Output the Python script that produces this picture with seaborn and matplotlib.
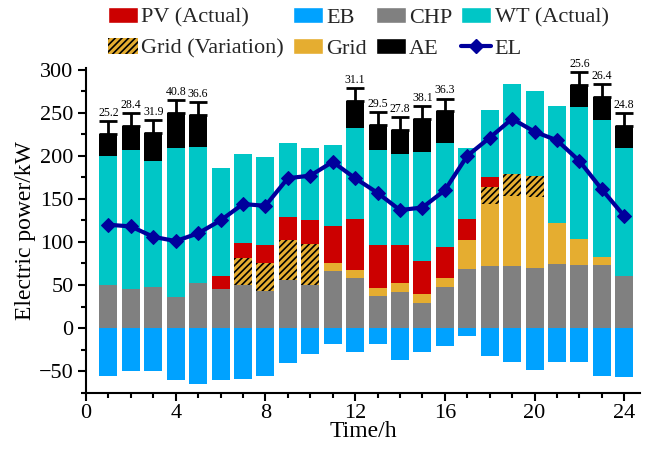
import numpy as np
import pandas as pd
import matplotlib
matplotlib.use("Agg")
import matplotlib.pyplot as plt
from matplotlib.patches import Patch
from matplotlib.lines import Line2D
from matplotlib.ticker import MultipleLocator
import seaborn as sns

hours = list(range(1, 25))
chp = [49.5, 44.9, 48.0, 35.6, 52.6, 44.9, 49.5, 42.5, 56.1, 50.3, 66.6, 58.4,
       37.5, 42.2, 29.4, 48.0, 68.9, 72.4, 72.4, 70.0, 74.7, 73.5, 73.5, 60.7]
grid = [0, 0, 0, 0, 0, 0, 0, 0, 0, 0, 9.2, 9.3,
        9.3, 10.4, 10.4, 10.4, 33.7, 71.2, 81.3, 82.5, 47.6, 30.2, 9.3, 0]
grid_var = [0, 0, 0, 0, 0, 0, 32.1, 33.3, 46.5, 47.6, 0, 0,
            0, 0, 0, 0, 0, 20.5, 25.5, 24.4, 0, 0, 0, 0]
pv = [0, 0, 0, 0, 0, 15.8, 17.4, 20.2, 26.7, 27.9, 43.0, 59.2,
      49.2, 44.1, 38.4, 36.0, 24.3, 11.6, 0, 0, 0, 0, 0, 0]
wt = [150.6, 161.4, 146.3, 173.8, 158.0, 125.5, 103.4, 102.2, 85.9, 83.6, 94.1, 105.7,
      110.3, 105.7, 126.6, 120.8, 82.5, 77.8, 104.5, 98.7, 135.9, 153.3, 159.1, 148.7]
ae = [25.2, 28.4, 31.9, 40.8, 36.6, 0, 0, 0, 0, 0, 0, 31.1,
      29.5, 27.8, 38.1, 36.3, 0, 0, 0, 0, 0, 25.6, 26.4, 24.8]
ae_err = [15] * 24
eb = [-56.2, -50.4, -50.4, -60.0, -64.7, -60.0, -58.9, -56.2, -41.1, -30.6, -19.0, -28.3,
      -19.0, -36.8, -27.5, -20.5, -9.7, -32.2, -39.9, -48.4, -39.9, -39.1, -55.4, -56.6]
el = [120, 118, 106, 101, 110, 125, 144, 142, 174, 177, 193, 174,
      157, 137, 140, 160, 200, 221, 243, 228, 218, 194, 161, 130]

sns.set_theme(style="ticks")
plt.rcParams['font.family'] = ['Liberation Serif', 'DejaVu Serif']
plt.rcParams['mathtext.fontset'] = 'stix'
plt.rcParams['hatch.linewidth'] = 1.2

C_PV = '#CC0000'
C_EB = '#00A2FF'
C_CHP = '#808080'
C_WT = '#00C6C6'
C_GRID = '#E5AD30'
C_AE = '#000000'
C_EL = '#00009C'

fig = plt.figure(figsize=(6.45, 4.51), dpi=100)
ax = fig.add_axes([0.1333, 0.1293, 0.8589, 0.72])

x = np.array(hours, dtype=float)
w = 0.8
bottom = np.zeros(24)
ax.bar(x, eb, w, color=C_EB, linewidth=0)
ax.bar(x, chp, w, bottom=bottom, color=C_CHP, linewidth=0)
bottom += np.array(chp)
ax.bar(x, grid, w, bottom=bottom, color=C_GRID, linewidth=0)
bottom += np.array(grid)
ax.bar(x, grid_var, w, bottom=bottom, color=C_GRID, edgecolor='black',
       linewidth=0, hatch='/////')
bottom += np.array(grid_var)
ax.bar(x, pv, w, bottom=bottom, color=C_PV, linewidth=0)
bottom += np.array(pv)
ax.bar(x, wt, w, bottom=bottom, color=C_WT, linewidth=0)
bottom += np.array(wt)
ax.bar(x, ae, w, bottom=bottom, color=C_AE, linewidth=0)
bottom += np.array(ae)

ae_arr = np.array(ae)
mask = ae_arr > 0
tops = bottom[mask]
errs = np.array(ae_err)[mask]
ax.errorbar(x[mask], tops, yerr=[np.zeros(mask.sum()), errs], fmt='none',
            ecolor='black', elinewidth=2, capsize=6.5, capthick=2, zorder=3)
for xi, t, e, v in zip(x[mask], tops, errs, ae_arr[mask]):
    ax.annotate(f"{v:.1f}", (xi, t + e), xytext=(0, 1.5), textcoords='offset points',
                ha='center', va='bottom', fontsize=8.5, color='black')

df_el = pd.DataFrame({'hour': x, 'EL': el})
sns.lineplot(data=df_el, x='hour', y='EL', ax=ax, color=C_EL, linewidth=3,
             marker='D', markersize=7, markeredgecolor=C_EL, zorder=4)

ax.set_xlim(0, 24.7)
ax.set_ylim(-75, 302)
ax.xaxis.set_major_locator(MultipleLocator(4))
ax.xaxis.set_minor_locator(MultipleLocator(1))
ax.yaxis.set_major_locator(MultipleLocator(50))
ax.yaxis.set_minor_locator(MultipleLocator(25))
ax.tick_params(axis='both', which='major', direction='out', length=6, width=1.5,
               labelsize=16, color='black', labelcolor='black', pad=3)
ax.tick_params(axis='x', which='major', pad=2)
ax.tick_params(axis='both', which='minor', direction='out', length=3.5, width=1.5,
               color='black')
for s in ['top', 'right']:
    ax.spines[s].set_visible(False)
for s in ['left', 'bottom']:
    ax.spines[s].set_linewidth(1.5)
    ax.spines[s].set_color('black')
ax.set_xlabel('Time/h', fontsize=17, color='black', labelpad=-1)
ax.set_ylabel('Electric power/kW', fontsize=17, color='black', labelpad=2)

handles = [
    Patch(facecolor=C_PV, label='PV (Actual)'),
    Patch(facecolor=C_GRID, edgecolor='black', linewidth=0, hatch='/////', label='Grid (Variation)'),
    Patch(facecolor=C_EB, label='EB'),
    Patch(facecolor=C_GRID, label='Grid'),
    Patch(facecolor=C_CHP, label='CHP'),
    Patch(facecolor=C_AE, label='AE'),
    Patch(facecolor=C_WT, label='WT (Actual)'),
    Line2D([0], [0], color=C_EL, linewidth=3, marker='D', markersize=7, label='EL'),
]
fig.legend(handles=handles, ncol=4, loc='upper left', bbox_to_anchor=(108 / 645, 1 - 7 / 451),
           frameon=False, fontsize=16, handlelength=1.35, handleheight=0.75,
           handletextpad=0.15, columnspacing=0.4, labelspacing=0.45,
           borderpad=0, borderaxespad=0)

fig.savefig('out.png', dpi=100)
